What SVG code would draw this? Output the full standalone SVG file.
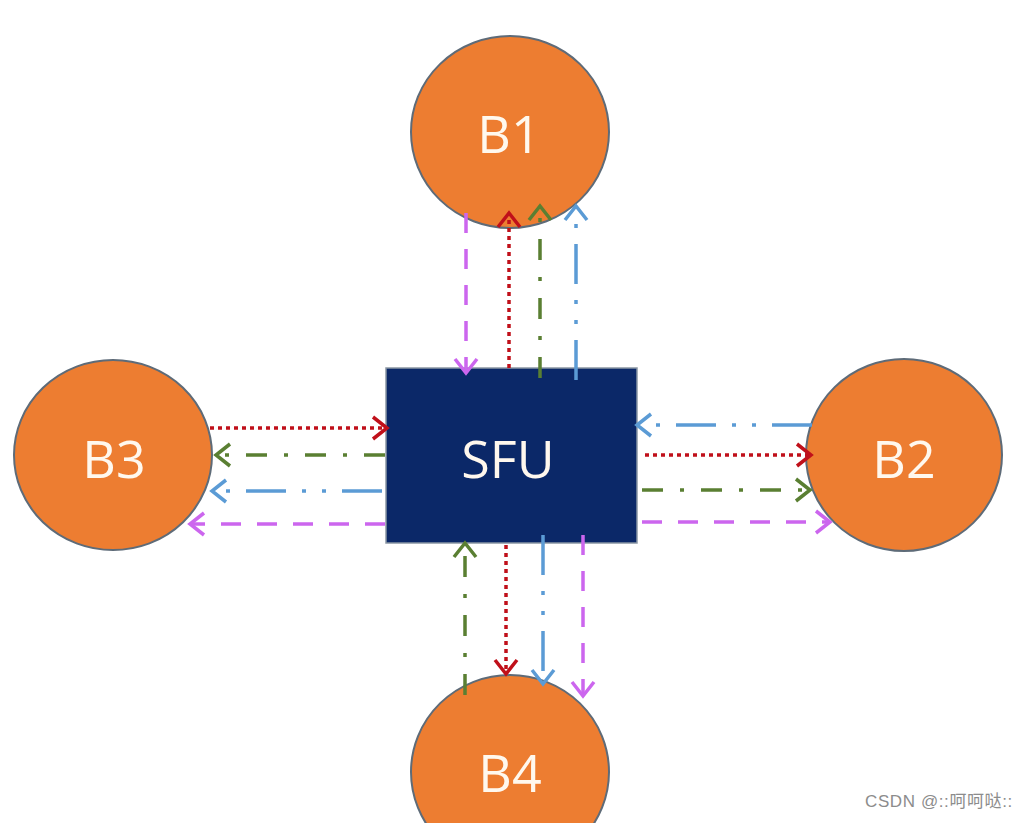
<svg xmlns="http://www.w3.org/2000/svg" width="1030" height="823" viewBox="0 0 1030 823">
<style>
.node{fill:#ed7d31;stroke:#5e6b78;stroke-width:2}
.lbl{font-family:"Open Sans","Liberation Sans",sans-serif;font-size:52px;fill:#fff8ee;text-anchor:middle}
.c{fill:none;stroke-width:3.5}
.red{stroke:#c0101a;stroke-dasharray:4 4}
.grn{stroke:#5a7f32;stroke-dasharray:21 17 4 17}
.blu{stroke:#5b9bd5;stroke-dasharray:40 16 4 16 4 16}
.mag{stroke:#cc66ee;stroke-dasharray:20 16}
.wm{font-family:"Liberation Sans","Noto Sans CJK SC",sans-serif;font-size:17px;letter-spacing:0.6px;fill:#8c8c8c}
</style>
<defs>
<marker id="ar" markerUnits="userSpaceOnUse" markerWidth="30" markerHeight="30" refX="0" refY="0" viewBox="-20 -15 25 30" orient="auto"><path d="M-14,-11 L0,0 L-14,11" fill="none" stroke="#c0101a" stroke-width="3.5"/></marker>
<marker id="ag" markerUnits="userSpaceOnUse" markerWidth="30" markerHeight="30" refX="0" refY="0" viewBox="-20 -15 25 30" orient="auto"><path d="M-14,-11 L0,0 L-14,11" fill="none" stroke="#5a7f32" stroke-width="3.5"/></marker>
<marker id="ab" markerUnits="userSpaceOnUse" markerWidth="30" markerHeight="30" refX="0" refY="0" viewBox="-20 -15 25 30" orient="auto"><path d="M-14,-11 L0,0 L-14,11" fill="none" stroke="#5b9bd5" stroke-width="3.5"/></marker>
<marker id="am" markerUnits="userSpaceOnUse" markerWidth="30" markerHeight="30" refX="0" refY="0" viewBox="-20 -15 25 30" orient="auto"><path d="M-14,-11 L0,0 L-14,11" fill="none" stroke="#cc66ee" stroke-width="3.5"/></marker>
</defs>
<rect width="1030" height="823" fill="#ffffff"/>
<g id="B1"><ellipse class="node" cx="510" cy="132" rx="99" ry="96"/><text class="lbl" x="509" y="153">B1</text></g>
<g id="B3"><ellipse class="node" cx="113" cy="455" rx="99" ry="95"/><text class="lbl" x="114" y="478">B3</text></g>
<g id="B2"><ellipse class="node" cx="904" cy="455" rx="98" ry="96"/><text class="lbl" x="904" y="478">B2</text></g>
<g id="B4"><ellipse class="node" cx="510" cy="772" rx="99" ry="97"/><text class="lbl" x="510" y="792">B4</text></g>
<g id="SFU"><rect x="386" y="368" width="251" height="175" fill="#0b2868" stroke="#8a96a4" stroke-width="1.5"/><text class="lbl" x="508" y="478">SFU</text></g>
<g id="connectors">
<line class="c mag" x1="466" y1="213" x2="466" y2="373" marker-end="url(#am)"/>
<line class="c red" x1="509" y1="368" x2="509" y2="213" marker-end="url(#ar)"/>
<line class="c grn" x1="540" y1="378" x2="540" y2="206" marker-end="url(#ag)"/>
<line class="c blu" x1="576" y1="380" x2="576" y2="206" marker-end="url(#ab)"/>
<line class="c red" x1="210" y1="428" x2="387" y2="428" marker-end="url(#ar)"/>
<line class="c grn" x1="385" y1="455" x2="216" y2="455" marker-end="url(#ag)"/>
<line class="c blu" x1="382" y1="491" x2="212" y2="491" marker-end="url(#ab)"/>
<line class="c mag" x1="385" y1="524" x2="190" y2="524" marker-end="url(#am)"/>
<line class="c blu" x1="812" y1="425" x2="637" y2="425" marker-end="url(#ab)"/>
<line class="c red" x1="645" y1="455" x2="811" y2="455" marker-end="url(#ar)"/>
<line class="c grn" x1="642" y1="490" x2="810" y2="490" marker-end="url(#ag)"/>
<line class="c mag" x1="642" y1="522" x2="830" y2="522" marker-end="url(#am)"/>
<line class="c grn" x1="465" y1="695" x2="465" y2="543" marker-end="url(#ag)"/>
<line class="c red" x1="506" y1="545" x2="506" y2="674" marker-end="url(#ar)"/>
<line class="c blu" x1="543" y1="535" x2="543" y2="684" marker-end="url(#ab)"/>
<line class="c mag" x1="583" y1="535" x2="583" y2="696" marker-end="url(#am)"/>
</g>
<text class="wm" x="865" y="807">CSDN @::呵呵哒::</text>
</svg>
